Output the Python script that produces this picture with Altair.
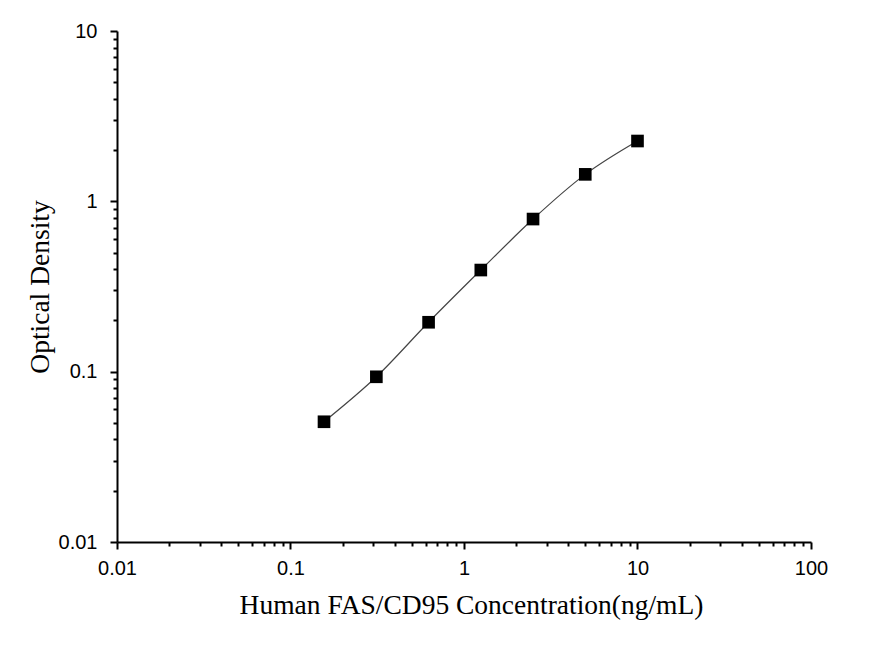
import altair as alt
import pandas as pd

concentration = [0.156, 0.3125, 0.625, 1.25, 2.5, 5, 10]
optical_density = [0.0508, 0.0933, 0.195, 0.395, 0.787, 1.44, 2.26]

decades = [0.01, 0.1, 1, 10, 100]
x_ticks = [d * m for d in decades[:-1] for m in range(1, 10)] + [100]
y_ticks = [d * m for d in decades[:-2] for m in range(1, 10)] + [10]

df = pd.DataFrame({"conc": concentration, "od": optical_density})

major = "abs(log(datum.value)/LN10 - round(log(datum.value)/LN10)) < 0.001"


def _axis(title, values, **kw):
    return alt.Axis(
        title=title,
        values=values,
        grid=False,
        labelExpr=f"({major}) ? format(datum.value, '~g') : ''",
        labelFlush=False,
        labelOverlap=False,
        tickSize={"condition": {"test": major, "value": 7}, "value": 4},
        tickWidth=2,
        tickColor="black",
        domainColor="black",
        domainWidth=2,
        labelFont="Liberation Sans",
        labelFontSize=20,
        labelColor="black",
        titleFont="Liberation Serif",
        titleFontSize=27.5,
        titleFontWeight="normal",
        titleColor="black",
        **kw,
    )


x = alt.X(
    "conc:Q",
    scale=alt.Scale(type="log", domain=[0.01, 100], nice=False),
    axis=_axis("Human FAS/CD95 Concentration(ng/mL)", x_ticks,
               labelPadding=9, titlePadding=13, titleX=354),
)
y = alt.Y(
    "od:Q",
    scale=alt.Scale(type="log", domain=[0.01, 10], nice=False),
    axis=_axis("Optical Density", y_ticks, labelPadding=13, titlePadding=4),
)

curve = alt.Chart(df).mark_line(
    interpolate="monotone", color="#444444", strokeWidth=1.2
).encode(x=x, y=y)

points = alt.Chart(df).mark_square(
    size=160, color="black", opacity=1
).encode(x=x, y=y)

chart = (curve + points).properties(
    width=694,
    height=511,
    autosize="none",
    padding={"left": 109, "top": 23, "right": 57, "bottom": 96},
    background="white",
).configure_view(stroke=None)

chart.save("out.html", embed_options={"renderer": "svg", "actions": False})
